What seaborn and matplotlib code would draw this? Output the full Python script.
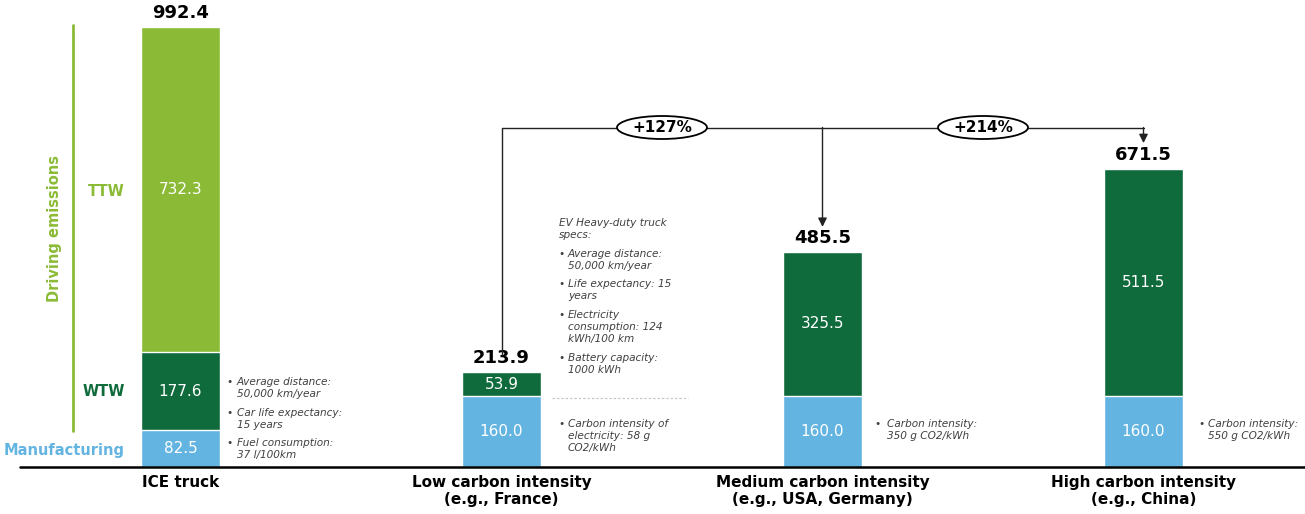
import matplotlib
matplotlib.use("Agg")
import matplotlib.pyplot as plt
import seaborn as sns
import pandas as pd
from matplotlib.patches import Ellipse
from matplotlib.lines import Line2D

# ---------------- data ----------------
categories = ["ICE truck",
              "Low carbon intensity\n(e.g., France)",
              "Medium carbon intensity\n(e.g., USA, Germany)",
              "High carbon intensity\n(e.g., China)"]
manufacturing = [82.5, 160.0, 160.0, 160.0]
wtw = [177.6, 53.9, 325.5, 511.5]
ttw = [732.3, 0.0, 0.0, 0.0]
totals = [992.4, 213.9, 485.5, 671.5]

ice_notes = [["Average distance:", "50,000 km/year"],
             ["Car life expectancy:", "15 years"],
             ["Fuel consumption:", "37 l/100km"]]
ev_header = ["EV Heavy-duty truck", "specs:"]
ev_notes = [["Average distance:", "50,000 km/year"],
            ["Life expectancy: 15", "years"],
            ["Electricity", "consumption: 124", "kWh/100 km"],
            ["Battery capacity:", "1000 kWh"]]
low_note = ["Carbon intensity of", "electricity: 58 g", "CO2/kWh"]
med_note = ["Carbon intensity:", "350 g CO2/kWh"]
high_note = ["Carbon intensity:", "550 g CO2/kWh"]

# ---------------- style ----------------
LG = "#8BBB36"
DG = "#0F6B3B"
BL = "#64B4E2"
GRAY = "#404040"

sns.set_theme(style="white")
plt.rcParams["font.family"] = ["DejaVu Sans"]

W, H = 1305, 514
fig = plt.figure(figsize=(W / 100, H / 100), dpi=100)
ax = fig.add_axes([0, 47 / H, 1, 467 / H])

df = pd.DataFrame({"cat": categories,
                   "m": manufacturing,
                   "mw": [a + b for a, b in zip(manufacturing, wtw)],
                   "mwt": [a + b + c for a, b, c in zip(manufacturing, wtw, ttw)]})

top_colors = [LG if t > 0 else DG for t in ttw]
bw = 0.246
common = dict(x="cat", hue="cat", legend=False, width=bw, saturation=1,
              edgecolor="white", linewidth=1, ax=ax, order=categories,
              hue_order=categories)
sns.barplot(data=df, y="mwt", palette=top_colors, **common)
sns.barplot(data=df, y="mw", palette=[DG] * 4, **common)
sns.barplot(data=df, y="m", palette=[BL] * 4, **common)

px_per_unit = 0.4434
ax.set_ylim(0, 467 / px_per_unit)
ax.set_xlim(-180.5 / 321, (W - 180.5) / 321)
for s in ax.spines.values():
    s.set_visible(False)
ax.set_ylabel("")
ax.set_xlabel("")
ax.set_yticks([])
ax.set_xticks(range(len(categories)))
ax.set_xticklabels(categories, fontsize=11, fontweight="bold", color="black",
                   linespacing=1.1)
ax.tick_params(axis="x", length=0, pad=6)
ax.plot([-0.5, 3.6], [0, 0], color="black", lw=1.8, clip_on=False, zorder=5)

# segment labels
for i in range(len(categories)):
    m, w, t = manufacturing[i], wtw[i], ttw[i]
    ax.text(i, m / 2, f"{m:.1f}", ha="center", va="center", color="white", fontsize=11)
    ax.text(i, m + w / 2, f"{w:.1f}", ha="center", va="center", color="white", fontsize=11)
    if t > 0:
        ax.text(i, m + w + t / 2, f"{t:.1f}", ha="center", va="center", color="white", fontsize=11)
    ax.annotate(f"{totals[i]:.1f}", (i, totals[i]), xytext=(0, 3.5),
                textcoords="offset points", ha="center", va="bottom",
                fontsize=13, fontweight="bold", color="black")

# left side labels
def fx(px):
    return px / W

def fy(py):
    return 1 - py / H

fig.text(fx(55), fy(228), "Driving emissions", rotation=90, ha="center", va="center",
         color=LG, fontsize=10.5, fontweight="bold")
fig.add_artist(Line2D([fx(73), fx(73)], [fy(25), fy(431)], color=LG, lw=2))
fig.text(fx(125), fy(191), "TTW", ha="right", va="center", color=LG, fontsize=10.5, fontweight="bold")
fig.text(fx(125), fy(392), "WTW", ha="right", va="center", color=DG, fontsize=10.5, fontweight="bold")
fig.text(fx(125), fy(450), "Manufacturing", ha="right", va="center", color=BL, fontsize=10.5, fontweight="bold")

# notes
NFS = 7.6
def note_block(bx, tx, items, ys):
    for lines, y0 in zip(items, ys):
        fig.text(fx(bx), fy(y0), "•", ha="center", va="center", color=GRAY, fontsize=NFS)
        for k, ln in enumerate(lines):
            fig.text(fx(tx), fy(y0 + k * 12), ln, ha="left", va="center", color=GRAY,
                     fontsize=NFS, style="italic")

note_block(230, 237, ice_notes, [382, 413, 443])
for k, ln in enumerate(ev_header):
    fig.text(fx(559), fy(223 + k * 12), ln, ha="left", va="center", color=GRAY,
             fontsize=NFS, style="italic")
note_block(562, 568, ev_notes, [254, 284, 315, 358])
note_block(562, 568, [low_note], [424])
note_block(878, 887, [med_note], [424])
note_block(1201, 1208, [high_note], [424])
fig.add_artist(Line2D([fx(552), fx(688)], [fy(398), fy(398)], color="#C8C8C8",
                      lw=0.9, ls=(0, (2, 1.5))))

# comparison arrows
yh = (467 - 127.5) / px_per_unit
lc = "#222222"
ax.plot([1, 1], [totals[1] + 39, yh], color=lc, lw=1, zorder=3)
ax.plot([1, 3], [yh, yh], color=lc, lw=1, zorder=3)
for i, off in [(2, 56), (3, 59)]:
    ax.annotate("", xy=(i, totals[i] + off), xytext=(i, yh),
                arrowprops=dict(arrowstyle="-|>", color=lc, lw=1, mutation_scale=13,
                                shrinkA=0, shrinkB=0), zorder=3)
for i in (2, 3):
    pct = round((totals[i] / totals[1] - 1) * 100)
    xc = i - 0.5
    ax.add_patch(Ellipse((xc, yh), width=90 / 321, height=23 / px_per_unit,
                         facecolor="white", edgecolor="black", lw=1.3, zorder=6))
    ax.text(xc, yh, f"+{pct}%", ha="center", va="center", fontsize=11,
            fontweight="bold", color="black", zorder=7)

fig.savefig("out.png", dpi=100, facecolor="white")
